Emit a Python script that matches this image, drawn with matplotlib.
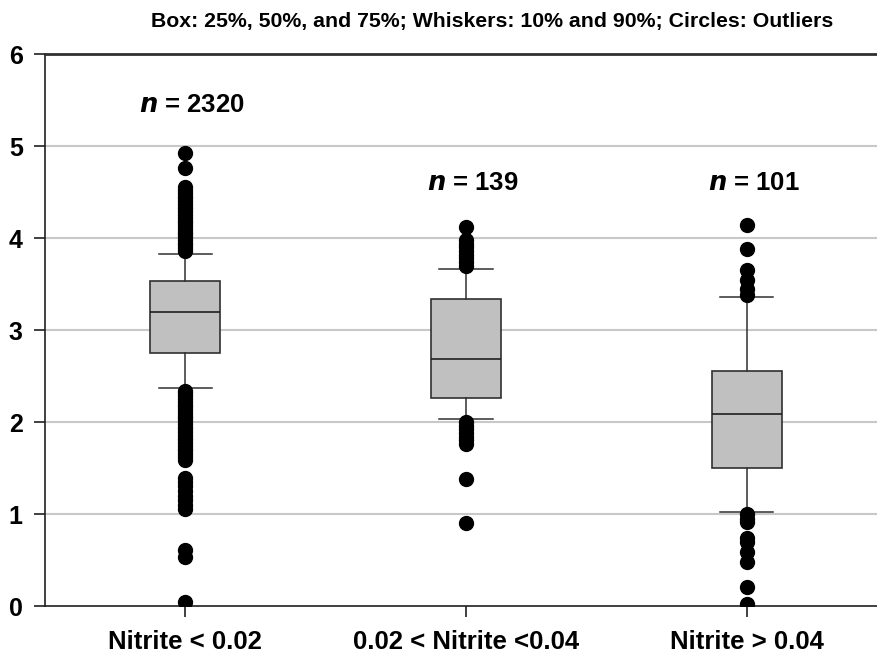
import matplotlib
matplotlib.use("Agg")
import matplotlib.pyplot as plt

categories = ["Nitrite < 0.02", "0.02 < Nitrite <0.04", "Nitrite > 0.04"]
counts = [2320, 139, 101]
p10 = [2.37, 2.03, 1.02]
q1 = [2.75, 2.26, 1.50]
med = [3.20, 2.68, 2.09]
q3 = [3.53, 3.34, 2.55]
p90 = [3.83, 3.66, 3.36]

outliers_1 = [4.92, 4.76, 4.55, 4.52, 4.49, 4.46, 4.43, 4.40, 4.37, 4.34, 4.31,
              4.28, 4.25, 4.22, 4.19, 4.16, 4.13, 4.10, 4.07, 4.04, 4.01, 3.98,
              3.95, 3.92, 3.89, 3.86,
              2.34, 2.31, 2.28, 2.25, 2.22, 2.19, 2.16, 2.13, 2.10, 2.07, 2.04,
              2.01, 1.98, 1.95, 1.92, 1.89, 1.86, 1.83, 1.80, 1.77, 1.74, 1.71,
              1.68, 1.65, 1.62, 1.59,
              1.39, 1.35, 1.30, 1.25, 1.20, 1.15, 1.10, 1.05,
              0.61, 0.53, 0.04]
outliers_2 = [4.12, 3.98, 3.94, 3.90, 3.86, 3.82, 3.78, 3.74, 3.70,
              2.00, 1.96, 1.92, 1.88, 1.84, 1.80, 1.76,
              1.38, 0.90]
outliers_3 = [4.14, 3.88, 3.65, 3.54, 3.45, 3.38,
              1.00, 0.95, 0.91, 0.74, 0.70, 0.59, 0.48, 0.21, 0.02]
outliers = [outliers_1, outliers_2, outliers_3]

title = "Box: 25%, 50%, and 75%; Whiskers: 10% and 90%; Circles: Outliers"

plt.rcParams['font.family'] = ['Liberation Sans', 'DejaVu Sans']

fig = plt.figure(figsize=(8.78, 6.55), dpi=100)
ax = fig.add_axes([45/878, 49/655, 842/878, 552/655])

stats = []
for i in range(3):
    stats.append(dict(med=med[i], q1=q1[i], q3=q3[i], whislo=p10[i],
                      whishi=p90[i], fliers=outliers[i], label=categories[i]))

positions = [1, 2, 3]
ax.bxp(stats, positions=positions, widths=0.25, patch_artist=True,
       showfliers=True,
       boxprops=dict(facecolor='#c0c0c0', edgecolor='#303030', linewidth=1.2),
       medianprops=dict(color='#202020', linewidth=1.2),
       whiskerprops=dict(color='#303030', linewidth=1.1),
       capprops=dict(color='#303030', linewidth=1.1),
       capwidths=0.19,
       flierprops=dict(marker='o', markerfacecolor='black',
                       markeredgecolor='black', markersize=10, linestyle='none'),
       zorder=3)

ax.set_xlim(0.5, 3.5)
ax.set_ylim(0, 6)
ax.set_yticks([0, 1, 2, 3, 4, 5, 6])
ax.set_xticks(positions)
ax.set_xticklabels(categories)
for y in [1, 2, 3, 4, 5]:
    ax.axhline(y, color='#c8c8c8', linewidth=1.5, zorder=0)

ax.spines['right'].set_visible(False)
ax.spines['top'].set_color('#303030')
ax.spines['top'].set_linewidth(2.0)
ax.spines['left'].set_color('#202020')
ax.spines['bottom'].set_color('#202020')
ax.spines['left'].set_linewidth(1.2)
ax.spines['bottom'].set_linewidth(1.2)

ax.tick_params(axis='y', direction='out', length=8, width=1.2, pad=8,
               labelsize=18, colors='#202020', labelcolor='black')
ax.tick_params(axis='x', direction='out', length=8, width=1.2, pad=9,
               labelsize=18.5, colors='#202020', labelcolor='black')
for lab in ax.get_xticklabels() + ax.get_yticklabels():
    lab.set_fontweight('bold')

n_y = [5.45, 4.6, 4.6]
for i in range(3):
    ax.text(positions[i] + 0.025, n_y[i], r"$\bfit{n}$ = " + str(counts[i]),
            ha='center', va='center', fontsize=18.5, fontweight='bold')

fig.text(492/878, 1 - 22/655, title, ha='center', va='center',
         fontsize=15.3, fontweight='bold')

fig.savefig("out.png", dpi=100)
